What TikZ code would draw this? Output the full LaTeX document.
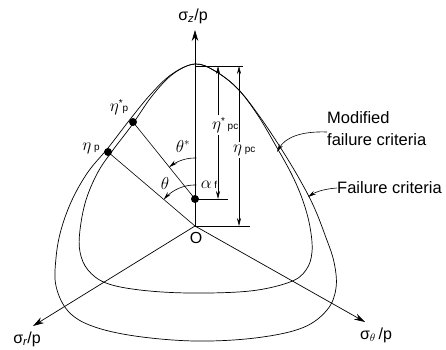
\documentclass[tikz,border=0pt]{standalone}
\usepackage{fontspec}
\setmainfont{Liberation Sans}
\usetikzlibrary{arrows.meta}
\newcommand{\smalltxt}[1]{{\fontsize{10}{12}\selectfont #1}}
\begin{document}
\begin{tikzpicture}[x=1pt,y=-1pt,
  curve/.style={line width=0.7pt},
  ax/.style={line width=0.7pt,-{Stealth[length=11pt,width=6.5pt]}},
  dimarrow/.style={line width=0.6pt,-{Stealth[length=8pt,width=4pt]}},
  guide/.style={line width=0.6pt},
  dot/.style={circle,fill=black,inner sep=0pt,minimum size=8pt},
  lbl/.style={inner sep=0pt,font=\fontsize{16}{18}\selectfont},
  txt/.style={inner sep=0pt,font=\fontsize{16.5}{22}\selectfont,align=left},
]
\useasboundingbox (0,0) rectangle (446,349);

% curves
\draw[curve] plot[smooth cycle, tension=0.6] coordinates {
 (195,64) (215,71) (238,89) (260,117) (282,150) (300,180) (314,207) (325,235)
 (334,262) (336,288) (327,310) (302,328) (255,338) (195,341) (135,336) (92,326)
 (68,311) (56,286) (56,258) (61,230) (72,200) (88,172) (108,148) (128,122)
 (150,95) (172,74)};
\draw[curve] plot[smooth cycle, tension=0.6] coordinates {
 (195,64) (215,71) (237,88) (257,114) (276,146) (292,175) (303,201) (310,227)
 (312,252) (306,270) (290,282) (250,291) (190,293) (140,290) (106,283) (88,270)
 (80,252) (80,230) (86,200) (98,172) (113,150) (132,125) (152,96) (173,74)};

% points
\coordinate (O) at (195,226);
\node[dot] (af) at (195,199) {};
\node[dot] (ep) at (108,152) {};
\node[dot] (esp) at (133,122) {};
\coordinate (zt) at (195,30);
\coordinate (rt) at (33,326);
\coordinate (tt) at (365,322);
\coordinate (apex) at (195,66);
\coordinate (topR) at (243,66);
\coordinate (afR) at (228,199);
\coordinate (OR) at (250,226);

% axes
\draw[ax] (O) -- (zt);
\draw[ax] (O) -- (rt);
\draw[ax] (O) -- (tt);
\draw[guide] (O) -- (ep.center);
\draw[guide] (af.center) -- (esp.center);
\draw[guide] (apex) -- (topR);
\draw[guide] (af.center) -- (afR);
\draw[guide] (O) -- (OR);

% axis labels
\node[lbl] (lz) at (193,16) {σ\textsubscript{\itshape z}/p};
\node[lbl] (lr) at (27,339) {σ\textsubscript{\itshape r}/p};
\node[lbl] (lt) at (376,335) {σ\textsubscript{$\theta$}\,/p};
\node[lbl] (lO) at (196,238) {O};

% dimension arrows
\coordinate (a1) at (218,66);
\coordinate (b1) at (239,66);
\node[lbl,anchor=west] (lpcs) at (212,125) {$\eta$\raisebox{5pt}{\smalltxt{*}}\,\smalltxt{pc}};
\node[lbl,anchor=west] (lpc) at (233,150) {$\eta$\,\smalltxt{pc}};
\draw[dimarrow] ([yshift=2pt]lpcs.north -| a1) -- (a1);
\draw[dimarrow] ([yshift=-2pt]lpcs.south -| a1) -- (a1 |- af);
\draw[dimarrow] ([yshift=2pt]lpc.north -| b1) -- (b1);
\draw[dimarrow] ([yshift=-2pt]lpc.south -| b1) -- (b1 |- O);

% angle arcs
\draw[dimarrow] plot[domain=88:139.6, samples=25] ({195+41*cos(\x)}, {226-41*sin(\x)});
\draw[dimarrow] plot[domain=88:128.8, samples=25] ({195+41*cos(\x)}, {199-41*sin(\x)});

% point labels
\node[lbl] (lesp) at (119,107) {$\eta$\raisebox{5pt}{\smalltxt{*}}\smalltxt{p}};
\node[lbl] (lep) at (91,148) {$\eta$\,\smalltxt{p}};
\node[lbl] (lths) at (183,146) {$\theta^{*}$};
\node[lbl] (lth) at (165,183) {$\theta$};
\node[lbl] (laf) at (209,185) {$\alpha$\,\smalltxt{f}};

% annotations
\node[txt,anchor=west] (mod) at (327,129) {Modified\\failure criteria};
\node[txt,anchor=west] (fail) at (337,188) {Failure criteria};
\coordinate (modtip) at (277,152);
\coordinate (failtip) at (308,197);
\draw[dimarrow] (mod.west |- 0,132) .. controls (300,131) and (285,138) .. (modtip);
\draw[dimarrow] (fail.west) .. controls (322,189) and (314,193) .. (failtip);
\end{tikzpicture}
\end{document}
